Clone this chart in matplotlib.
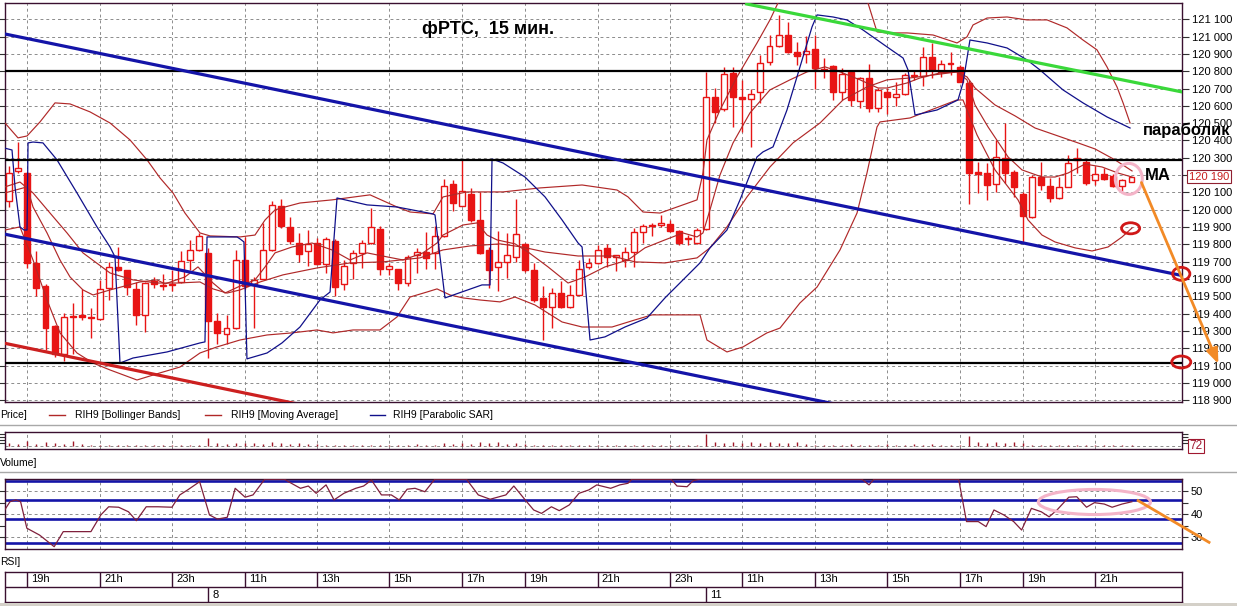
import numpy as np
import matplotlib
matplotlib.use("Agg")
import matplotlib.pyplot as plt
from matplotlib.patches import Ellipse, Rectangle
from matplotlib.lines import Line2D
from matplotlib.ticker import FuncFormatter, FixedLocator

plt.rcParams['font.family'] = ['Liberation Sans', 'DejaVu Sans']

# ---------------- data (15-min candles, RIH9) ----------------
opens = [120050,120225,120211,119690,119562,119330,119170,119380,119395,119375,
         119370,119547,119670,119650,119545,119395,119590,119560,119565,119580,
         119710,119765,119750,119360,119284,119317,119710,119565,119600,119765,
         120022,119900,119807,119762,119807,119687,119820,119570,119690,119750,
         119807,119888,119657,119658,119575,119740,119758,119748,119850,120150,
         120022,120092,119942,119767,119670,119700,119730,119803,119653,119490,
         119437,119518,119437,119510,119672,119690,119778,119730,119710,119758,
         119873,119907,119910,119918,119878,119830,119807,119888,120653,120580,
         120788,120653,120640,120680,120855,120947,121010,120910,120898,120927,
         120815,120830,120679,120798,120628,120760,120586,120679,120653,120667,
         120773,120770,120880,120797,120850,120826,120734,120217,120211,120150,
         120297,120217,120092,119957,120188,120138,120067,120134,120285,120278,
         120172,120207,120195,120138,120160]
highs = [120250,120393,120220,119760,119570,119335,119405,119460,119545,119430,
         119595,119700,119785,119655,119580,119580,119610,119630,119650,119760,
         119825,119865,119780,119405,119395,119765,119840,119610,119925,120050,
         120062,119960,119865,119885,119835,119845,119830,119710,119768,119826,
         120010,119907,119690,119660,119740,119780,119870,119905,120176,120172,
         120290,120125,120105,119786,119880,119865,120060,119810,119695,119562,
         119547,119590,119565,119710,119720,119795,119803,119740,119786,119893,
         119918,119922,119970,119940,119885,119855,119895,120795,120702,120826,
         120826,120750,120696,120894,121010,121125,121086,120970,121003,121010,
         120875,120835,120817,120807,120765,120842,120702,120702,120740,120788,
         120807,120942,120961,120865,120913,120835,120750,120278,120269,120403,
         120500,120230,120105,120200,120278,120182,120190,120316,120355,120292,
         120253,120240,120207,120175,120190]
lows = [120015,120210,119665,119500,119190,119150,119125,119170,119365,119260,
        119365,119480,119645,119505,119335,119295,119550,119535,119530,119575,
        119650,119760,119145,119225,119225,119310,119545,119317,119600,119760,
        119893,119800,119700,119673,119680,119635,119500,119535,119600,119663,
        119800,119625,119625,119535,119560,119635,119657,119657,119845,119990,
        120020,119930,119745,119547,119530,119605,119700,119640,119470,119250,
        119316,119430,119430,119505,119660,119685,119672,119645,119672,119672,
        119810,119847,119900,119870,119797,119797,119800,119885,120500,120570,
        120480,120450,120365,120615,120836,120940,120905,120836,120846,120700,
        120760,120635,120635,120600,120586,120567,120567,120550,120600,120660,
        120750,120715,120760,120765,120778,120735,120034,120095,120055,120105,
        120157,120076,119807,119950,120115,120042,120060,120130,120211,120143,
        120143,120172,120134,120110,120160]
closes = [120210,120240,119695,119547,119316,119170,119380,119385,119380,119378,
          119540,119670,119650,119556,119395,119575,119573,119565,119568,119705,
          119765,119850,119355,119290,119317,119710,119562,119595,119765,120030,
          119906,119817,119745,119800,119687,119830,119555,119677,119748,119807,
          119900,119657,119677,119575,119725,119758,119720,119850,120138,120038,
          120108,119942,119750,119650,119700,119740,119858,119650,119480,119437,
          119518,119437,119510,119658,119695,119767,119730,119732,119758,119873,
          119907,119909,119925,119875,119807,119832,119885,120653,120566,120784,
          120650,120638,120667,120846,120947,121010,120910,120888,120915,120817,
          120805,120679,120785,120634,120760,120586,120692,120653,120667,120778,
          120776,120884,120807,120840,120840,120740,120214,120207,120143,120307,
          120211,120134,119965,120188,120143,120067,120130,120272,120300,120157,
          120207,120178,120138,120169,120188]
volumes = [300,150,450,200,350,300,200,450,150,
           80,60,100,70,60,90,60,70,50,60,80,60,70,
           800,
           250,200,300,250,
           300,200,350,250,200,300,150,200,
           80,60,70,100,60,80,70,90,60,80,150,70,60,
           250,150,
           300,200,400,250,350,200,300,150,
           70,60,80,60,90,50,70,60,80,50,60,70,50,60,40,60,50,70,80,
           1150,
           350,300,400,250,350,300,400,300,250,350,200,
           100,70,80,60,150,70,60,80,200,60,70,150,60,200,70,80,60,
           950,
           350,300,400,300,350,250,
           80,60,70,50,60,40,60,50,40,60,50,72]

# indicator readings: (candle position, value)
bb_upper = [(-0.48,120501),(0.96,120415),(1.96,120426),(3.39,120507),(5.05,120617),(6.71,120611),
            (8.92,120565),(11.13,120501),(13.34,120403),(15.22,120288),(16.65,120184),(18.09,120097),
            (19.41,119981),(21.07,119866),(22.18,119849),(25.49,119843),(27.15,119854),(28.26,119941),
            (29.36,119999),(30.46,120016),(32.12,120039),(35.66,120057),(39.86,120086),(42.84,120016),
            (44.28,119987),(46.82,119976),(47.92,120074),(50.57,120103),(54.55,120103),(58.64,120126),
            (63.29,120143),(67.15,120114),(68.37,120074),(70.02,119987),(71.9,119981),(75.99,120057),
            (76.65,120212),(77.09,120403),(78.53,120576),(80.41,120767),(82.62,120963),(84.05,121096),
            (84.94,121194),(87.37,121385),(90.7,121471),(93.45,121385),(94.88,121194),(95.88,121027),
            (96.99,121021),(99.2,121021),(102.07,121009),(104.72,120963),(105.82,120998),(106.49,121067),
            (108.04,121107),(110.25,121113),(112.46,121096),(114.67,121096),(116.87,121050),(118.64,120980),
            (120.19,120923),(121.29,120825),(122.4,120709),(123.07,120617),(123.84,120501)]
bb_mid = [(-0.48,120132),(1.18,120160),(2.62,120097),(4.5,119981),(6.38,119866),(8.14,119751),
          (11.13,119635),(13.67,119595),(16.32,119577),(18.53,119577),(21.07,119583),(22.51,119543),
          (24.06,119519),(25.49,119537),(27.7,119583),(30.24,119624),(34.0,119664),(37.65,119693),
          (41.29,119699),(45.38,119722),(47.92,119768),(50.91,119791),(54.22,119803),(56.65,119785),
          (59.2,119756),(62.85,119733),(66.6,119733),(69.14,119699),(72.45,119693),(75.99,119722),
          (77.42,119780),(79.3,119901),(81.51,120074),(84.05,120247),(86.6,120386),(89.58,120501),
          (92.12,120634),(94.77,120709),(96.99,120750),(99.53,120761),(102.07,120778),(104.72,120796),
          (105.82,120767),(106.71,120703),(108.92,120605),(111.13,120542),(113.34,120472),(115.88,120426),
          (118.09,120386),(119.97,120351),(122.18,120288),(124.06,120224)]
bb_lower = [(-0.48,119883),(1.18,119901),(2.62,119710),(4.17,119479),(5.6,119289),(7.48,119173),
            (9.25,119115),(11.13,119075),(14.11,119017),(16.65,119058),(18.86,119092),(21.07,119173),
            (22.95,119208),(25.49,119248),(28.48,119277),(31.24,119289),(34.0,119306),(35.77,119289),
            (37.98,119306),(40.96,119306),(42.84,119381),(44.28,119496),(46.15,119525),(47.26,119543),
            (48.7,119508),(50.13,119491),(52.01,119479),(54.22,119468),(55.88,119496),(58.09,119450),
            (61.08,119352),(63.29,119323),(66.6,119323),(69.14,119364),(71.01,119393),(76.32,119393),
            (77.09,119248),(79.3,119179),(81.07,119208),(83.72,119289),(85.16,119317),(87.37,119462),
            (89.26,119554),(91.79,119768),(93.67,119981),(94.77,120212),(95.88,120478),(96.21,120507),
            (99.53,120530),(104.72,120634),(105.38,120634),(106.93,120432),(108.92,120230),(111.46,120057),
            (112.57,119941),(114.11,119854),(115.55,119814),(117.76,119780),(119.64,119762),(121.41,119785),
            (122.96,119843),(124.06,119895)]
moving_avg = [(-0.48,120097),(1.96,120132),(2.62,120016),(4.17,119866),(5.6,119710),(6.71,119612),
              (8.14,119537),(9.25,119508),(11.13,119537),(14.44,119583),(16.32,119595),(17.2,119572),
              (19.41,119612),(20.85,119670),(22.51,119577),(23.83,119519),(25.27,119554),(27.15,119595),
              (28.26,119670),(29.36,119751),(31.24,119785),(33.45,119808),(35.66,119768),(37.65,119710),
              (39.53,119751),(41.73,119728),(43.5,119710),(45.71,119751),(47.26,119808),(47.92,119854),
              (50.13,119912),(51.68,119924),(52.79,119854),(53.89,119826),(55.88,119803),(57.32,119756),
              (59.53,119670),(61.74,119577),(63.62,119612),(65.82,119670),(68.37,119710),(70.24,119780),
              (72.45,119826),(74.44,119866),(75.99,119843),(76.65,119866),(77.42,119999),(78.53,120201),
              (79.97,120386),(81.84,120559),(84.05,120692),(86.26,120750),(88.15,120796),(90.13,120825),
              (91.79,120796),(94.0,120750),(95.99,120703),(96.99,120703),(99.2,120732),(100.63,120761),
              (102.84,120790),(104.72,120796),(105.82,120750),(106.71,120605),(108.15,120478),(110.36,120305),
              (111.9,120230),(114.11,120189),(115.55,120189),(116.99,120212),(118.86,120264),(120.74,120247),
              (122.51,120212),(124.06,120189)]
parabolic_sar = [(-0.59,120357),(0.3,120345),(0.63,120132),(1.18,119901),(1.62,119883),(1.96,119883),
                 (2.07,120386),(2.62,120391),(3.72,120386),(5.27,120288),(7.48,120097),(9.69,119901),
                 (11.13,119785),(11.68,119728),(12.23,119115),(13.67,119144),(17.43,119179),(21.07,119231),
                 (21.62,119237),(21.85,119843),(25.16,119843),(25.49,119832),(25.93,119814),(26.26,119139),
                 (28.48,119173),(30.13,119231),(32.12,119323),(34.33,119479),(35.44,119525),(36.21,120068),
                 (39.53,120028),(42.84,120016),(46.82,119976),(47.04,119970),(48.14,119491),(52.23,119566),
                 (53.12,119566),(53.34,120293),(54.55,120270),(56.98,120189),(59.2,120074),(61.08,119941),
                 (62.85,119808),(63.29,119785),(64.17,119248),(65.82,119266),(68.03,119323),(70.46,119375),
                 (72.45,119491),(76.32,119693),(77.42,119780),(79.3,119883),(80.74,120057),(82.62,120305),
                 (83.28,120334),(84.39,120363),(85.93,120576),(87.37,120825),(88.7,121056),(89.26,121125),
                 (91.02,121113),(92.56,121096),(94.33,121038),(96.99,120940),(98.76,120876),(99.31,120807),
                 (100.08,120547),(102.51,120576),(104.83,120634),(105.38,120732),(106.15,120980),(108.04,120963),
                 (110.25,120934),(112.46,120865),(113.89,120807),(116.43,120692),(118.64,120617),(121.29,120536),
                 (123.84,120472)]
rsi = [(-0.51,41.9),(0.07,45.5),(0.72,46.3),(1.25,45.5),(1.94,33.9),(3.34,30.9),(4.96,25.8),(5.96,32.4),
       (9.02,32.4),(10.11,39.7),(10.98,43.3),(12.08,43.1),(13.17,41.1),(14.04,37.2),(15.13,43.3),(16.44,43.3),
       (17.97,43.1),(18.84,48.5),(19.71,50.7),(21.03,54.3),(22.12,39.7),(23.0,37.9),(24.09,38.7),(24.96,51.4),
       (26.06,47.5),(26.93,48.5),(28.23,55.4),(30.4,55.4),(30.85,54.3),(32.17,51.4),(33.04,52.4),(33.91,49.2),
       (35.0,52.9),(35.88,46.3),(36.97,49.2),(38.28,51.4),(39.15,52.4),(40.02,55.0),(41.12,48.5),(42.21,48.5),
       (43.08,46.3),(43.96,51.0),(44.83,51.4),(45.92,49.9),(47.02,55.4),(50.51,55.4),(51.82,48.5),(53.13,46.6),
       (54.87,48.5),(55.75,52.4),(57.07,46.0),(57.94,41.9),(58.81,40.4),(59.9,43.3),(60.77,41.6),(61.87,44.1),
       (62.95,49.2),(64.04,50.7),(64.92,52.9),(66.45,51.4),(67.46,52.9),(68.36,53.6),(68.81,55.4),(73.12,55.4),
       (73.78,52.4),(74.89,52.1),(75.55,54.7),(76.3,55.4),(94.2,55.4),(95.0,52.9),(95.55,55.4),(104.9,55.4),
       (105.77,36.8),(107.07,36.8),(107.93,34.6),(108.8,41.9),(109.9,39.7),(110.98,36.8),(111.86,33.1),
       (112.94,42.6),(114.03,41.1),(114.9,38.9),(115.77,41.9),(117.07,47.5),(117.95,47.7),(119.03,43.1),
       (119.9,45.1),(120.99,44.5),(121.86,43.1),(122.96,44.5),(124.04,45.5)]
rsi_levels = [54.6, 46.3, 37.9, 27.5]

time_tick_pos = [2, 10, 18, 26, 34, 42, 50, 57, 65, 73, 81, 89, 97, 105, 112, 120]
time_tick_labels = ['19h', '21h', '23h', '11h', '13h', '15h', '17h', '19h',
                    '21h', '23h', '11h', '13h', '15h', '17h', '19h', '21h']
day_pos = [22, 77]
day_labels = ['8', '11']
price_ticks = list(range(118900, 121101, 100))
last_price = 120190
last_volume = 72

# drawn lines / annotations (candle position, price)
hlevels = [120800, 120288, 119118]
channel_upper = [(-0.5, 121015), (129.6, 119620)]
channel_lower = [(-0.6, 119860), (92.0, 118870)]
red_trend = [(-0.5, 119229), (32.0, 118877)]
green_trend = [(81.3, 121190), (129.6, 120680)]
arrow_main = [(125.1, 120157), (133.6, 119110)]
pink_ellipse = (123.7, 120178, 2.98, 179)
red_ellipses = [(123.9, 119893, 2.0, 64), (129.5, 119630, 1.9, 75), (129.5, 119121, 2.1, 69)]
rsi_ellipse = (119.9, 45.4, 12.4, 11.0)
rsi_arrow = [(124.6, 46.3), (132.7, 27.4)]

# ---------------- layout ----------------
W, H = 1237, 606
X0_PX, STEP_PX = 9.3, 9.05
XL = ((5 - X0_PX) / STEP_PX, (1182 - X0_PX) / STEP_PX)
CANDLE_RED = '#e81414'
IND_RED = '#b02828'
NAVY = '#10108a'
BLUE = '#1414a8'
FRAME = '#3a1030'
GRID = '#8c8c8c'
ORANGE = '#f28a26'
PINK = '#f4b4c8'
ELL_RED = '#d01818'


def pxbox(x0, y0, x1, y1):
    return [x0 / W, 1 - y1 / H, (x1 - x0) / W, (y1 - y0) / H]


def fx(x):
    return x / W


def fy(y):
    return 1 - y / H


def price_label(v, p):
    v = int(round(v))
    # the current-price box covers the nearest level label
    if abs(v - last_price) < 50:
        return ''
    return f"{v:,}".replace(',', ' ')


fig = plt.figure(figsize=(W / 100, H / 100), dpi=100)
fig.patch.set_facecolor('white')

grid_kw = dict(color=GRID, lw=0.7, ls=(0, (3, 3)), zorder=0.5)

# ---------------- main price panel ----------------
ax = fig.add_axes(pxbox(5, 3.3, 1182, 402))
ax.set_xlim(XL)
ax.set_ylim(118890, 121192)
for s in ax.spines.values():
    s.set_color(FRAME)
    s.set_linewidth(1)
ax.yaxis.set_major_locator(FixedLocator(price_ticks))
ax.yaxis.set_major_formatter(FuncFormatter(price_label))
ax.tick_params(axis='y', left=True, right=True, labelleft=False, labelright=True,
               direction='out', length=5, width=0.8, color='#303030', pad=2, labelsize=8)
ax.tick_params(axis='x', bottom=False, labelbottom=False)
for p in price_ticks:
    ax.axhline(p, **grid_kw)
for t in time_tick_pos:
    ax.axvline(t, **grid_kw)

idx = np.arange(len(opens))
o = np.array(opens, float)
c = np.array(closes, float)
hi = np.array(highs, float)
lo = np.array(lows, float)
up = c >= o
bottom = np.minimum(o, c)
height = np.maximum(np.abs(c - o), 6)
ax.vlines(idx, lo, hi, color=CANDLE_RED, lw=1.0, zorder=3)
ax.bar(idx[up], height[up], bottom=bottom[up], width=0.66, facecolor='white',
       edgecolor=CANDLE_RED, lw=1.0, zorder=3.5)
ax.bar(idx[~up], height[~up], bottom=bottom[~up], width=0.66, facecolor=CANDLE_RED,
       edgecolor=CANDLE_RED, lw=1.0, zorder=3.5)

for series in (bb_upper, bb_mid, bb_lower, moving_avg):
    xs, ys = zip(*series)
    ax.plot(xs, ys, color=IND_RED, lw=0.85, zorder=4)
xs, ys = zip(*parabolic_sar)
ax.plot(xs, ys, color=NAVY, lw=0.9, zorder=4)

for lvl in hlevels:
    ax.axhline(lvl, color='black', lw=1.6, zorder=5)
for line, col in ((channel_upper, BLUE), (channel_lower, BLUE), (red_trend, '#cc2020'),
                  (green_trend, '#3ad83a')):
    xs, ys = zip(*line)
    ax.plot(xs, ys, color=col, lw=2.3, zorder=5, solid_capstyle='butt')

# annotations
cx, cy, ew, eh = pink_ellipse
ax.add_patch(Ellipse((cx, cy), ew, eh, fill=False, edgecolor=PINK, lw=2.2, zorder=6, clip_on=False))
for (cx, cy, ew, eh) in red_ellipses:
    ax.add_patch(Ellipse((cx, cy), ew, eh, fill=False, edgecolor=ELL_RED, lw=2.0, zorder=7, clip_on=False))
ax.annotate('', xy=arrow_main[1], xytext=arrow_main[0], annotation_clip=False, zorder=8,
            arrowprops=dict(arrowstyle='-|>,head_length=0.9,head_width=0.35', color=ORANGE,
                            lw=2.0, shrinkA=0, shrinkB=0))

fig.text(fx(422), fy(30), 'фРТС,  15 мин.', fontsize=13, fontweight='bold', va='center', ha='left')
fig.text(fx(1143), fy(130), 'параболик', fontsize=12, fontweight='bold', va='center', ha='left')
fig.text(fx(1145), fy(175), 'МА', fontsize=12, fontweight='bold', va='center', ha='left')
fig.text(fx(1189), fy(176.5), f"{last_price:,}".replace(',', ' '), fontsize=8, color='#c81e1e',
         va='center', ha='left',
         bbox=dict(boxstyle='square,pad=0.15', facecolor='white', edgecolor='#902030', lw=0.8))

# ---------------- legend row ----------------
fig.text(fx(0), fy(415), 'Price]', fontsize=7.5, va='center', ha='left')
for (x0, x1, tx, col, label) in ((49, 65, 75, IND_RED, 'RIH9 [Bollinger Bands]'),
                                 (205, 221, 231, IND_RED, 'RIH9 [Moving Average]'),
                                 (370, 385, 393, NAVY, 'RIH9 [Parabolic SAR]')):
    fig.add_artist(Line2D([fx(x0), fx(x1)], [fy(415), fy(415)], color=col, lw=1.0))
    fig.text(fx(tx), fy(415), label, fontsize=7.5, va='center', ha='left')
for ysep in (425, 472):
    fig.add_artist(Line2D([0, 1], [fy(ysep), fy(ysep)], color='#a8a8a8', lw=1.0))

# ---------------- volume panel ----------------
vax = fig.add_axes(pxbox(5, 432.3, 1182, 449.3))
vax.set_xlim(XL)
vax.set_ylim(-360, 1340)
for s in vax.spines.values():
    s.set_color(FRAME)
    s.set_linewidth(1)
vax.set_xticks([])
vax.set_yticks([300, 600, 900, 1200])
vax.tick_params(axis='y', left=True, right=True, labelleft=False, labelright=False,
                direction='out', length=4, width=0.8, color='#303030')
vax.axhline(0, **grid_kw)
for t in time_tick_pos:
    vax.axvline(t, **grid_kw)
vax.vlines(idx, 0, volumes, color='#a01828', lw=1.0, zorder=3)
fig.text(fx(1189), fy(446), str(last_volume), fontsize=8.5, color='#a01830', va='center', ha='left',
         bbox=dict(boxstyle='square,pad=0.12', facecolor='white', edgecolor='#a01830', lw=0.8))
fig.text(fx(0), fy(463), 'Volume]', fontsize=7.5, va='center', ha='left')

# ---------------- RSI panel ----------------
rax = fig.add_axes(pxbox(5, 479, 1182, 549))
rax.set_xlim(XL)
rax.set_ylim(24.78, 55.48)
for s in rax.spines.values():
    s.set_color(FRAME)
    s.set_linewidth(1)
rax.set_xticks([])
rax.set_yticks([30, 35, 40, 45, 50])
rax.set_yticklabels(['30', '', '40', '', '50'])
rax.tick_params(axis='y', left=True, right=True, labelleft=False, labelright=True,
                direction='out', length=4, width=0.8, color='#303030', pad=2, labelsize=8)
for g in (30, 40, 50):
    rax.axhline(g, **grid_kw)
for t in time_tick_pos:
    rax.axvline(t, **grid_kw)
for lvl in rsi_levels:
    rax.axhline(lvl, color=BLUE, lw=1.9, zorder=2)
xs, ys = zip(*rsi)
rax.plot(xs, ys, color='#80203c', lw=0.9, zorder=3)
cx, cy, ew, eh = rsi_ellipse
rax.add_patch(Ellipse((cx, cy), ew, eh, fill=False, edgecolor=PINK, lw=2.2, zorder=4, clip_on=False))
xs, ys = zip(*rsi_arrow)
rax.plot(xs, ys, color=ORANGE, lw=2.0, zorder=5, clip_on=False, solid_capstyle='butt')
fig.text(fx(0), fy(562), 'RSI]', fontsize=7.5, va='center', ha='left')

# ---------------- time axis ----------------
tax = fig.add_axes(pxbox(5, 572, 1182, 602))
tax.set_xlim(XL)
tax.set_ylim(0, 2)
tax.set_xticks([])
tax.set_yticks([])
for s in tax.spines.values():
    s.set_color(FRAME)
    s.set_linewidth(1)
tax.axhline(1, color=FRAME, lw=1)
tax.vlines(time_tick_pos, 1, 2, color=FRAME, lw=1)
tax.vlines(day_pos, 0, 1, color=FRAME, lw=1)
for pos, lbl in zip(time_tick_pos, time_tick_labels):
    tax.annotate(lbl, (pos, 1.5), xytext=(3, 0), textcoords='offset points',
                 va='center', ha='left', fontsize=8)
for pos, lbl in zip(day_pos, day_labels):
    tax.annotate(lbl, (pos, 0.5), xytext=(3, 0), textcoords='offset points',
                 va='center', ha='left', fontsize=8)

fig.add_artist(Rectangle((0, 0), 1, fy(603), transform=fig.transFigure,
                         facecolor='#d4d0c8', edgecolor='none'))

fig.savefig('out.png', dpi=100)
